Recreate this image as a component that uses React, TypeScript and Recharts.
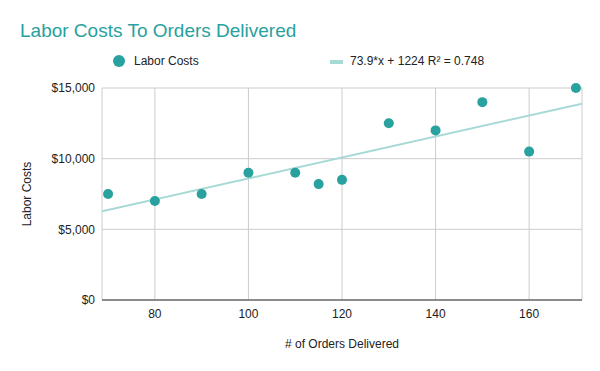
import React from "react";
import { ScatterChart, Scatter, XAxis, YAxis, CartesianGrid } from "recharts";

const orders = [70, 80, 90, 100, 110, 115, 120, 130, 140, 150, 160, 170];
const laborCosts = [7500, 7000, 7500, 9000, 9000, 8200, 8500, 12500, 12000, 14000, 10500, 15000];

// trendline end points
const trendX = [68.7, 171.3];
const trendY = [6280, 13890];

const xTicks = [80, 100, 120, 140, 160];
const yTicks = [0, 5000, 10000, 15000];

const points = orders.map((x, i) => ({ x, y: laborCosts[i] }));
const trend = trendX.map((x, i) => ({ x, y: trendY[i] }));

const TEAL = "#29a19e";
const TREND = "#a7d9d7";
const FONT = "'Liberation Sans', Arial, sans-serif";

const fmtMoney = (v: number) => "$" + v.toLocaleString("en-US");

const Dot = (props: any) => <circle cx={props.cx} cy={props.cy} r={5} fill={TEAL} />;

export default function App() {
  return (
    <div style={{ position: "absolute", left: 0, top: 0, width: 600, height: 371, background: "#fff", fontFamily: FONT }}>
      <div style={{ position: "absolute", left: 20, top: 19, fontSize: 19, color: TEAL, whiteSpace: "nowrap", lineHeight: "24px" }}>
        Labor Costs To Orders Delivered
      </div>
      <div style={{ position: "absolute", left: 113, top: 55, width: 12, height: 12, borderRadius: 6, background: TEAL }} />
      <div style={{ position: "absolute", left: 134, top: 54, fontSize: 12, color: "#222", lineHeight: "14px" }}>
        Labor Costs
      </div>
      <div style={{ position: "absolute", left: 330, top: 60, width: 13, height: 4, background: TREND }} />
      <div style={{ position: "absolute", left: 350, top: 54, fontSize: 12, color: "#222", lineHeight: "14px", whiteSpace: "nowrap" }}>
        73.9*x + 1224 R² = 0.748
      </div>
      <ScatterChart width={600} height={371} margin={{ top: 88, right: 18, bottom: 41, left: 42 }}>
        <CartesianGrid stroke="#cccccc" />
        <XAxis
          type="number"
          dataKey="x"
          domain={[68.7, 171.3]}
          ticks={xTicks}
          allowDataOverflow
          height={30}
          tickSize={0}
          tickMargin={9}
          axisLine={{ stroke: "#333" }}
          tick={{ fill: "#222", fontSize: 12, fontFamily: FONT }}
          label={{
            value: "# of Orders Delivered",
            position: "bottom",
            offset: 9,
            fill: "#222",
            fontSize: 12,
            fontFamily: FONT,
          }}
        />
        <YAxis
          type="number"
          dataKey="y"
          domain={[0, 15000]}
          ticks={yTicks}
          width={60}
          tickSize={0}
          tickMargin={7}
          axisLine={false}
          tickFormatter={fmtMoney}
          tick={{ fill: "#222", fontSize: 12, fontFamily: FONT }}
          label={{
            content: ({ viewBox }: any) => {
              const cx = 27;
              const cy = viewBox.y + viewBox.height / 2;
              return (
                <text
                  x={cx}
                  y={cy}
                  transform={`rotate(-90 ${cx} ${cy})`}
                  textAnchor="middle"
                  dominantBaseline="central"
                  fill="#222"
                  fontSize={12}
                  fontFamily={FONT}
                >
                  Labor Costs
                </text>
              );
            },
          }}
        />
        <Scatter
          data={trend}
          line={{ stroke: TREND, strokeWidth: 2 }}
          shape={() => <g />}
          isAnimationActive={false}
        />
        <Scatter data={points} shape={Dot} isAnimationActive={false} />
      </ScatterChart>
    </div>
  );
}
